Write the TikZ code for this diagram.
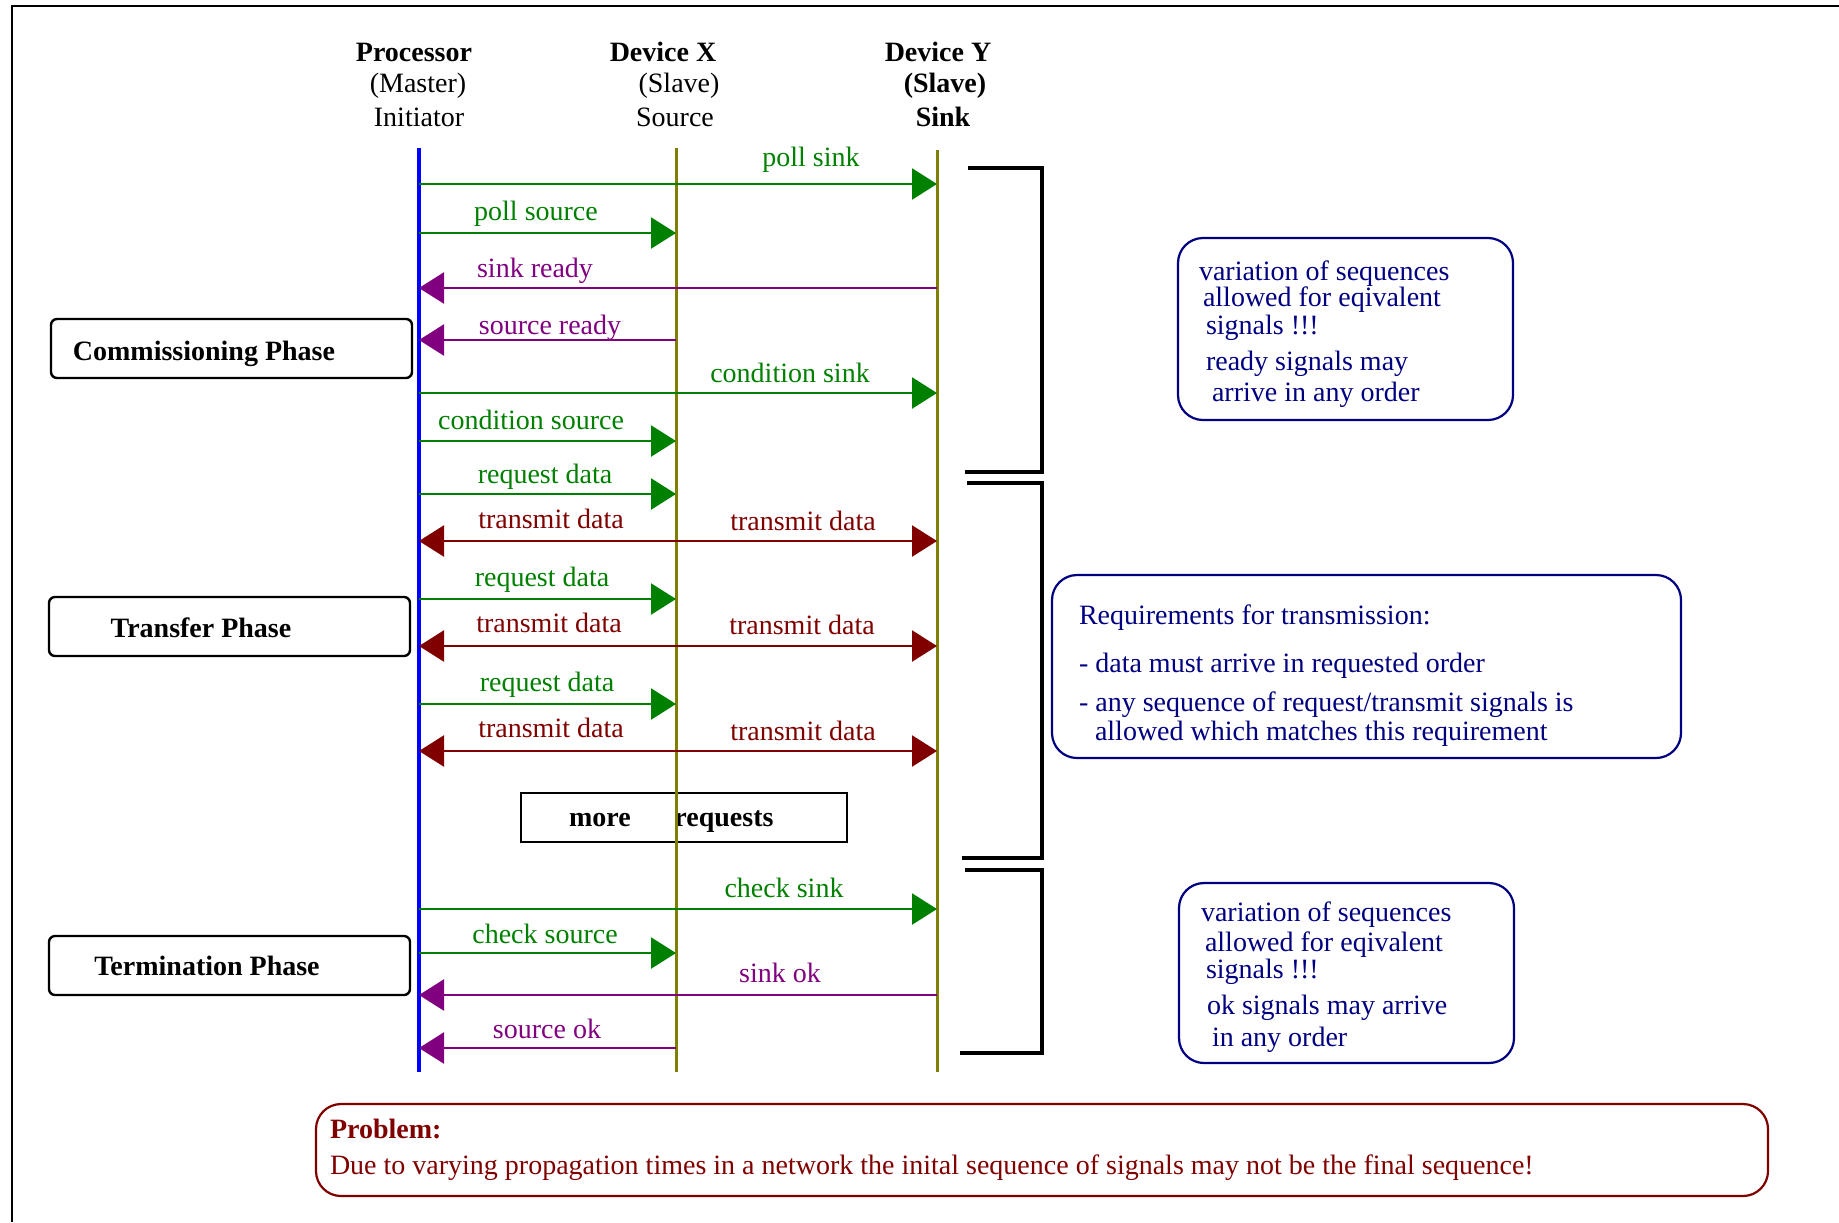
\documentclass[tikz,border=0pt]{standalone}
\usepackage{fontspec}
\setmainfont{Liberation Serif}
\usetikzlibrary{arrows.meta}

\definecolor{msggreen}{RGB}{0,128,0}
\definecolor{msgpurple}{RGB}{128,0,128}
\definecolor{msgred}{RGB}{128,0,0}
\definecolor{notenavy}{RGB}{0,0,128}
\definecolor{lifeolive}{RGB}{128,128,0}
\definecolor{lifeblue}{RGB}{0,0,255}

\begin{document}
\begin{tikzpicture}[x=0.5pt,y=-0.5pt,
  every node/.style={font=\fontsize{14pt}{17pt}\selectfont, inner sep=0pt, outer sep=0pt},
  txt/.style={text height=9.5pt, text depth=3pt, yshift=-1.3pt},
  hdr/.style={txt, font=\fontsize{14pt}{17pt}\selectfont\bfseries},
  lifeP/.style={draw=lifeblue, line width=1.75pt},
  lifeO/.style={draw=lifeolive, line width=1.5pt},
  sig/.style={line width=1.2pt, -{Triangle[length=12.5pt,width=15.5pt]}},
  phasebox/.style={draw, line width=1.2pt, rounded corners=3pt, minimum width=180.5pt, minimum height=29.5pt},
  notebox/.style={draw=notenavy, line width=1.1pt, rounded corners=12.5pt},
  notetxt/.style={txt, anchor=west, text=notenavy},
  bracket/.style={line width=2pt},
]
\useasboundingbox (0,0) rectangle (1839,1222);

% outer frame
\draw[line width=1pt] (1839,6) -- (12,6) -- (12,1222);

% participants
\node[hdr] (hP1) at (414,52) {Processor};
\node[txt] (hP2) at (418,83) {(Master)};
\node[txt] (hP3) at (419,117) {Initiator};
\node[hdr] (hX1) at (663,52) {Device X};
\node[txt] (hX2) at (679,83) {(Slave)};
\node[txt] (hX3) at (675,117) {Source};
\node[hdr] (hY1) at (938,52) {Device Y};
\node[hdr] (hY2) at (945,83) {(Slave)};
\node[hdr] (hY3) at (943,117) {Sink};

% lifelines
\coordinate (Ptop) at (419,148);  \coordinate (Pbot) at (419,1072);
\coordinate (Xtop) at (676,148);  \coordinate (Xbot) at (676,1072);
\coordinate (Ytop) at (937,150);  \coordinate (Ybot) at (937,1072);

% "more requests" box
\node[draw, line width=1.2pt, minimum width=163pt, minimum height=24.5pt] (more) at (684,817.5) {};
\node[hdr] (moreA) at (600,817) {more};
\node[hdr] (moreB) at (724,817) {requests};

\draw[lifeP] (Ptop) -- (Pbot);
\draw[lifeO] (Xtop) -- (Xbot);
\draw[lifeO] (Ytop) -- (Ybot);

% message rows
\foreach \n/\y in {1/184,2/233,3/288,4/340,5/393,6/441,7/494,8/541,9/599,10/646,11/704,12/751,13/909,14/953,15/995,16/1048}
  \coordinate (r\n) at (0,\y);

% commissioning
\draw[sig, msggreen]  (Ptop |- r1) -- (Ytop |- r1);
\node[txt, text=msggreen] (l1) at (811,157) {poll sink};
\draw[sig, msggreen]  (Ptop |- r2) -- (Xtop |- r2);
\node[txt, text=msggreen] (l2) at (536,211) {poll source};
\draw[sig, msgpurple] (Ytop |- r3) -- (Ptop |- r3);
\node[txt, text=msgpurple] (l3) at (535,268) {sink ready};
\draw[sig, msgpurple] (Xtop |- r4) -- (Ptop |- r4);
\node[txt, text=msgpurple] (l4) at (550,325) {source ready};
\draw[sig, msggreen]  (Ptop |- r5) -- (Ytop |- r5);
\node[txt, text=msggreen] (l5) at (790,373) {condition sink};
\draw[sig, msggreen]  (Ptop |- r6) -- (Xtop |- r6);
\node[txt, text=msggreen] (l6) at (531,420) {condition source};

% transfer
\draw[sig, msggreen]  (Ptop |- r7) -- (Xtop |- r7);
\node[txt, text=msggreen] (l7) at (545,474) {request data};
\draw[sig, msgred] (Xtop |- r8) -- (Ptop |- r8);
\draw[sig, msgred] (Xtop |- r8) -- (Ytop |- r8);
\node[txt, text=msgred] (l8a) at (551,519) {transmit data};
\node[txt, text=msgred] (l8b) at (803,521) {transmit data};
\draw[sig, msggreen]  (Ptop |- r9) -- (Xtop |- r9);
\node[txt, text=msggreen] (l9) at (542,577) {request data};
\draw[sig, msgred] (Xtop |- r10) -- (Ptop |- r10);
\draw[sig, msgred] (Xtop |- r10) -- (Ytop |- r10);
\node[txt, text=msgred] (l10a) at (549,623) {transmit data};
\node[txt, text=msgred] (l10b) at (802,625) {transmit data};
\draw[sig, msggreen]  (Ptop |- r11) -- (Xtop |- r11);
\node[txt, text=msggreen] (l11) at (547,682) {request data};
\draw[sig, msgred] (Xtop |- r12) -- (Ptop |- r12);
\draw[sig, msgred] (Xtop |- r12) -- (Ytop |- r12);
\node[txt, text=msgred] (l12a) at (551,728) {transmit data};
\node[txt, text=msgred] (l12b) at (803,731) {transmit data};

% termination
\draw[sig, msggreen]  (Ptop |- r13) -- (Ytop |- r13);
\node[txt, text=msggreen] (l13) at (784,888) {check sink};
\draw[sig, msggreen]  (Ptop |- r14) -- (Xtop |- r14);
\node[txt, text=msggreen] (l14) at (545,934) {check source};
\draw[sig, msgpurple] (Ytop |- r15) -- (Ptop |- r15);
\node[txt, text=msgpurple] (l15) at (780,973) {sink ok};
\draw[sig, msgpurple] (Xtop |- r16) -- (Ptop |- r16);
\node[txt, text=msgpurple] (l16) at (547,1029) {source ok};

% phase labels
\node[phasebox] (ph1) at (231.5,348.5) {};
\node[hdr] (ph1t) at (204,351) {Commissioning Phase};
\node[phasebox] (ph2) at (229.5,626.5) {};
\node[hdr] (ph2t) at (201,628) {Transfer Phase};
\node[phasebox] (ph3) at (229.5,965.5) {};
\node[hdr] (ph3t) at (207,966) {Termination Phase};

% phase brackets
\draw[bracket] (968,168) -- (1042,168) -- (1042,472) -- (965,472);
\draw[bracket] (967,483) -- (1042,483) -- (1042,858) -- (962,858);
\draw[bracket] (965,870) -- (1042,870) -- (1042,1053) -- (960,1053);

% notes
\node[notebox, minimum width=167.5pt, minimum height=91pt] (n1) at (1345.5,329) {};
\node[notetxt] (n1a) at (1199,271) {variation of sequences};
\node[notetxt] (n1b) at (1203,297) {allowed for eqivalent};
\node[notetxt] (n1c) at (1206,325) {signals !!!};
\node[notetxt] (n1d) at (1206,361) {ready signals may};
\node[notetxt] (n1e) at (1212,392) {arrive in any order};

\node[notebox, minimum width=314.5pt, minimum height=91.5pt] (n2) at (1366.5,666.5) {};
\node[notetxt] (n2a) at (1079,615) {Requirements for transmission:};
\node[notetxt] (n2b) at (1079,663) {- data must arrive in requested order};
\node[notetxt] (n2c) at (1079,702) {- any sequence of request/transmit signals is};
\node[notetxt] (n2d) at (1095,731) {allowed which matches this requirement};

\node[notebox, minimum width=167.5pt, minimum height=90pt] (n3) at (1346.5,973) {};
\node[notetxt] (n3a) at (1201,912) {variation of sequences};
\node[notetxt] (n3b) at (1205,942) {allowed for eqivalent};
\node[notetxt] (n3c) at (1206,969) {signals !!!};
\node[notetxt] (n3d) at (1207,1005) {ok signals may arrive};
\node[notetxt] (n3e) at (1212,1037) {in any order};

% problem statement
\node[draw=msgred, line width=1.1pt, rounded corners=12.5pt, minimum width=726pt, minimum height=46pt] (prob) at (1042,1150) {};
\node[txt, anchor=west, text=msgred, font=\fontsize{14pt}{17pt}\selectfont\bfseries] (probA) at (330,1129) {Problem:};
\node[txt, anchor=west, text=msgred] (probB) at (330,1165) {Due to varying propagation times in a network the inital sequence of signals may not be the final sequence!};
\end{tikzpicture}
\end{document}
